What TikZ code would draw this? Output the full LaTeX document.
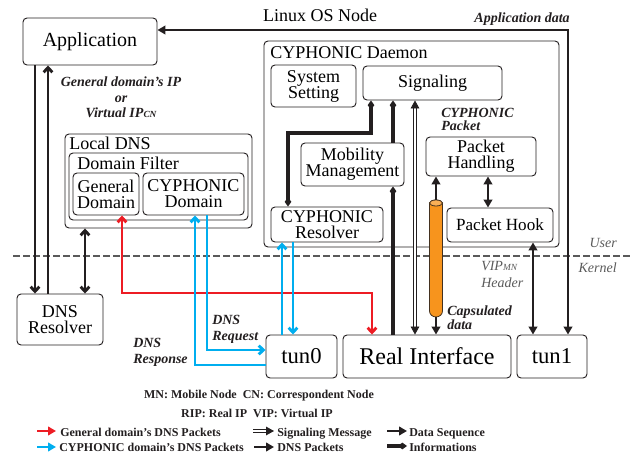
\documentclass[tikz,border=0pt]{standalone}
\usepackage{fontspec}
\setmainfont{Liberation Serif}
\usetikzlibrary{arrows.meta}
\definecolor{ink}{HTML}{231F20}
\definecolor{cred}{HTML}{ED1C24}
\definecolor{cblue}{HTML}{00AEEF}
\definecolor{corange}{HTML}{F7941D}
\definecolor{dashgray}{HTML}{5A5A5A}
\newcommand\fsmain{\fontsize{13.5}{12}\selectfont}
\newcommand\fsapp{\fontsize{15}{15}\selectfont}
\newcommand\fsbig{\fontsize{18}{18}\selectfont}
\newcommand\fstun{\fontsize{17}{17}\selectfont}
\newcommand\fshook{\fontsize{12.8}{12}\selectfont}
\newcommand\fslab{\fontsize{10.5}{11.6}\selectfont\bfseries\itshape}
\newcommand\fslabt{\fontsize{10.5}{10}\selectfont\bfseries\itshape}
\newcommand\fsitl{\fontsize{10.5}{12.6}\selectfont\itshape}
\newcommand\fsleg{\fontsize{9}{12}\selectfont\bfseries}
\newcommand\smallsub[1]{{\fontsize{7}{7}\selectfont #1}}
\tikzset{
  dtip/.tip={Triangle[length=6pt,width=6.5pt]},
  btip/.tip={Straight Barb[length=3.5pt,width=6.5pt]},
  itip/.tip={Diamond[length=7pt,width=5pt]},
  box/.style={draw=ink, line width=0.7pt, rounded corners=3pt, inner sep=0pt, align=center, font=\fsmain},
  wh/.style 2 args={minimum width=#1*0.75pt, minimum height=#2*0.75pt},
  dnsline/.style={draw=ink, line width=2.2pt},
  infoline/.style={draw=ink, line width=2.3pt},
  dataline/.style={draw=ink, line width=2.2pt},
  sigline/.style={draw=ink, line width=0.6pt, double=white, double distance=1.2pt},
  redline/.style={draw=cred, line width=2.2pt},
  blueline/.style={draw=cblue, line width=2.2pt},
  lab/.style={font=\fslab, inner sep=0pt, text=ink},
  leg/.style={font=\fsleg, inner sep=0pt, text=ink, anchor=base west},
}
\begin{document}
\begin{tikzpicture}[x=0.75pt,y=-0.75pt]
\useasboundingbox (0,0) rectangle (633,456);

% user / kernel border
\coordinate (dl) at (13,256);
\coordinate (dr) at (630,256);
\draw[dashgray, line width=0.9pt, dash pattern=on 5pt off 2.5pt] (dl) -- (dr);
\node[font=\fsitl, text=dashgray, inner sep=0pt, anchor=base east] (user) at (617,248) {User};
\node[font=\fsitl, text=dashgray, inner sep=0pt, anchor=base east] (kern) at (617,273) {Kernel};

% title
\node[font=\fsmain, inner sep=0pt, anchor=base] (os) at (320,22) {Linux OS Node};
\node[lab, anchor=base east] (appdata) at (570,23) {Application data};

% boxes (center x, center y; width, height in px)
\node[box, font=\fsapp, wh={134}{47}] (app) at (90,41.5) {Application};
\node[box, wh={187}{94}] (ldns) at (158.5,181) {};
\node[font=\fsmain, inner sep=0pt, anchor=base west] (ldnst) at (69,150) {Local DNS};
\node[box, wh={179}{67}] (dfilt) at (158.5,186.5) {};
\node[font=\fsmain, inner sep=0pt, anchor=base west] (dfiltt) at (77,170) {Domain Filter};
\node[box, wh={66}{42}] (gdom) at (106,194) {General\\Domain};
\node[box, wh={101}{42}] (cdom) at (193.5,194) {CYPHONIC\\Domain};
\node[box, wh={86}{51}] (dnsres) at (60,319.5) {DNS\\Resolver};

\node[box, wh={295}{206}] (daemon) at (411.5,144) {};
\node[font=\fsmain, inner sep=0pt, anchor=base west] (daemont) at (270,59) {CYPHONIC Daemon};
\node[box, wh={85}{42}] (sys) at (313.5,86) {System\\Setting};
\node[box, wh={139}{34}] (sig) at (432.5,83) {Signaling};
\node[box, wh={103}{43}] (mm) at (352.5,164.5) {Mobility\\Management};
\node[box, wh={112}{35}] (cres) at (327,224.5) {CYPHONIC\\Resolver};
\node[box, wh={110}{39}] (ph) at (481,156.5) {Packet\\Handling};
\node[box, font=\fshook, wh={106}{34}] (hook) at (500,225) {Packet Hook};

\node[box, font=\fstun, wh={71}{43}] (tun0) at (301.5,356.5) {tun0};
\node[box, font=\fsbig, wh={168}{43}] (real) at (427,356.5) {Real Interface};
\node[box, font=\fstun, wh={70}{43}] (tun1) at (552,356.5) {tun1};

% capsule (cylinder)
\node[inner sep=0pt, wh={13}{117}] (cyl) at (436,258.5) {};
\filldraw[fill=corange, draw=ink!85!corange, line width=0.6pt]
  (429.5,203) -- (429.5,311) arc[start angle=180, end angle=0, x radius=6.5, y radius=6]
  -- (442.5,203) arc[start angle=0, end angle=-180, x radius=6.5, y radius=3] -- cycle;
\filldraw[fill=corange!75!white, draw=ink!85!corange, line width=0.6pt]
  (436,203) ellipse[x radius=6.5, y radius=3];

% DNS packets (black)
\draw[dnsline, -btip] (35,0 |- app.south) -- (35,0 |- dnsres.north);
\draw[dnsline, -btip] (48,0 |- dnsres.north) -- (48,0 |- app.south);
\draw[dnsline, btip-btip] (85,0 |- ldns.south) -- (85,0 |- dnsres.north);

% general domain DNS packets (red)
\draw[redline, btip-btip] (122,0 |- gdom.south) -- (122,293) -- (372,293) -- (372,0 |- real.north);

% CYPHONIC domain DNS packets (blue)
\draw[blueline, -btip] (tun0.west |- 0,365) -- (195,365) -- (195,0 |- cdom.south);
\draw[blueline, -btip] (207,0 |- cdom.south) -- (207,350) -- (tun0.west |- 0,350);
\draw[blueline, -btip] (282,0 |- tun0.north) -- (282,0 |- cres.south);
\draw[blueline, -btip] (293,0 |- cres.south) -- (293,0 |- tun0.north);

% informations
\draw[infoline, itip-itip] (371,0 |- sig.south) -- (371,133) -- (288,133) -- (288,0 |- cres.north);
\draw[infoline, -itip] (393,0 |- mm.north) -- (393,0 |- sig.south);
\draw[infoline, -itip] (393,0 |- real.north) -- (393,0 |- mm.south);

% signaling message
\draw[sigline, dtip-dtip] (415,0 |- real.north) -- (415,0 |- sig.south);

% data sequence
\draw[dataline, dtip-dtip] (488,0 |- ph.south) -- (488,0 |- hook.north);
\draw[dataline, -dtip] (cyl.north) -- (cyl.north |- ph.south);
\draw[dataline, -dtip] (cyl.south) -- (cyl.south |- real.north);
\draw[dataline, dtip-dtip] (533,0 |- hook.south) -- (533,0 |- tun1.north);
\draw[dataline, dtip-dtip] (568,0 |- tun1.north) -- (568,30) -- (app.east |- 0,30);

% labels
\node[lab, align=center, anchor=north] (iplab) at (121,77) {General domain’s IP\\or\\Virtual IP\smallsub{CN}};
\node[lab, font=\fslabt, align=left, anchor=north west] (cpk) at (441,108) {CYPHONIC\\Packet};
\node[font=\fsitl, text=dashgray, inner sep=0pt, align=left, anchor=north west] (viph) at (481,261) {VIP\smallsub{MN}\\Header};
\node[lab, font=\fslabt, align=left, anchor=north west] (caps) at (447,306) {Capsulated\\data};
\node[lab, align=left, anchor=north west] (dreq) at (212,315) {DNS\\Request};
\node[lab, align=left, anchor=north west] (dres) at (133,338) {DNS\\Response};

% legend
\node[font=\fsleg, inner sep=0pt, text=ink, anchor=base] (l1) at (259,399) {MN: Mobile Node\enspace CN: Correspondent Node};
\node[font=\fsleg, inner sep=0pt, text=ink, anchor=base] (l2) at (257,417) {RIP: Real IP\enspace VIP: Virtual IP};
\coordinate (r0) at (37,431); \coordinate (r1) at (56,431);
\coordinate (b0) at (37,447); \coordinate (b1) at (56,447);
\coordinate (s0) at (253,431); \coordinate (s1) at (274,431);
\coordinate (p0) at (254,447); \coordinate (p1) at (274,447);
\coordinate (d0) at (387,431); \coordinate (d1) at (407,431);
\coordinate (i0) at (387,446); \coordinate (i1) at (407,446);
\draw[redline, -dtip] (r0) -- (r1);
\draw[blueline, -dtip] (b0) -- (b1);
\draw[sigline, -dtip] (s0) -- (s1);
\draw[dnsline, -dtip] (p0) -- (p1);
\draw[dataline, -dtip] (d0) -- (d1);
\draw[infoline, -itip] (i0) -- (i1);
\node[leg] (lr) at (60,436) {General domain’s DNS Packets};
\node[leg] (lb) at (59,452) {CYPHONIC domain’s DNS Packets};
\node[leg] (ls) at (277,436) {Signaling Message};
\node[leg] (lp) at (277,452) {DNS Packets};
\node[leg] (ld) at (409,436) {Data Sequence};
\node[leg] (li) at (409,451) {Informations};
\end{tikzpicture}
\end{document}
